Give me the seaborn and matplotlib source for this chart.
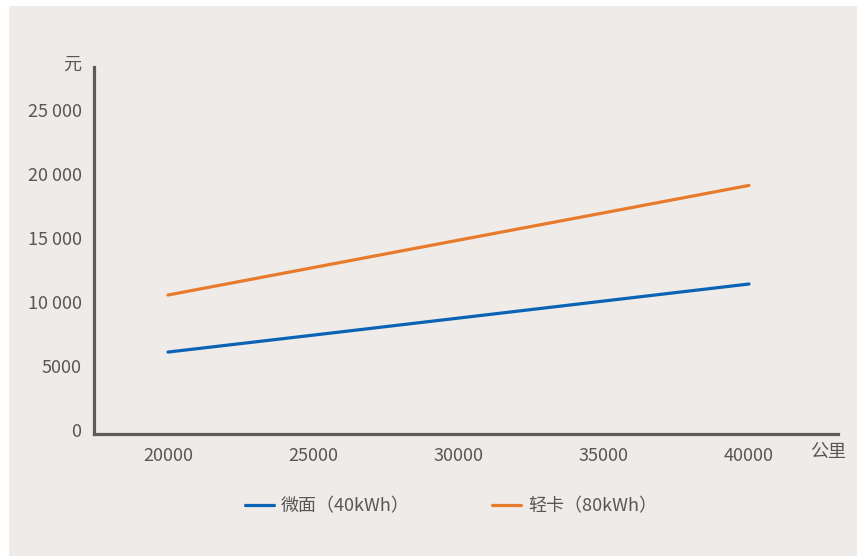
import matplotlib
matplotlib.use("Agg")
import matplotlib.pyplot as plt
import seaborn as sns
import pandas as pd
from matplotlib.patches import Rectangle

# Annual electricity cost vs. yearly mileage
km = [20000, 25000, 30000, 35000, 40000]
van_cost = [6080, 7400, 8730, 10060, 11390]      # 微面（40kWh）
truck_cost = [10530, 12670, 14810, 16940, 19080]  # 轻卡（80kWh）
series_names = ["微面（40kWh）", "轻卡（80kWh）"]
y_ticks = [0, 5000, 10000, 15000, 20000, 25000]
y_tick_labels = ["0", "5000", "10 000", "15 000", "20 000", "25 000"]
x_ticks = [20000, 25000, 30000, 35000, 40000]

df = pd.DataFrame({
    "km": km * 2,
    "cost": van_cost + truck_cost,
    "type": [series_names[0]] * len(km) + [series_names[1]] * len(km),
})

sns.set_theme(style="white")
plt.rcParams["font.family"] = ["Noto Sans CJK SC", "DejaVu Sans"]

bg = "#EEEBE8"
text_c = "#575757"
axis_c = "#5c5c5c"
fs = 13
palette = {series_names[0]: "#0B63B6", series_names[1]: "#E87A2B"}

fig = plt.figure(figsize=(8.57, 5.56), dpi=100, facecolor="white")
fig.patches.append(Rectangle((9 / 857, 0), 1 - 9 / 857, 1 - 6 / 556,
                             transform=fig.transFigure, facecolor=bg,
                             edgecolor="none", zorder=-10))

ax = fig.add_axes([94 / 857, 1 - 433.5 / 556, (838 - 94) / 857, (433.5 - 67) / 556])
ax.set_facecolor("none")

sns.lineplot(data=df, x="km", y="cost", hue="type", palette=palette,
             linewidth=2.3, ax=ax, legend=False)

ax.set_xlim(17453, 43063)
ax.set_ylim(-273, 28317)
ax.set_xticks(x_ticks)
ax.set_xticklabels([str(v) for v in x_ticks])
ax.set_yticks(y_ticks)
ax.set_yticklabels(y_tick_labels)
ax.tick_params(axis="both", length=0, labelsize=fs, colors=text_c)
ax.tick_params(axis="y", pad=9)
ax.tick_params(axis="x", pad=10)
ax.set_xlabel("")
ax.set_ylabel("")

for s in ["top", "right"]:
    ax.spines[s].set_visible(False)
for s in ["left", "bottom"]:
    ax.spines[s].set_color(axis_c)
    ax.spines[s].set_linewidth(2.3)

fig.text(72 / 857, 1 - 65 / 556, "元", ha="center", va="center",
         fontsize=fs, color=text_c)
fig.text(828 / 857, 1 - 452 / 556, "公里", ha="center", va="center",
         fontsize=fs, color=text_c)

handles = [plt.Line2D([], [], color=palette[n], linewidth=2.3) for n in series_names]
fig.legend(handles, series_names, loc="center", bbox_to_anchor=(451 / 857, 1 - 506 / 556),
           ncol=2, frameon=False, fontsize=fs, labelcolor=text_c,
           handlelength=1.6, handletextpad=0.4, columnspacing=4.55)

fig.savefig("out.png", dpi=100, facecolor="white")
